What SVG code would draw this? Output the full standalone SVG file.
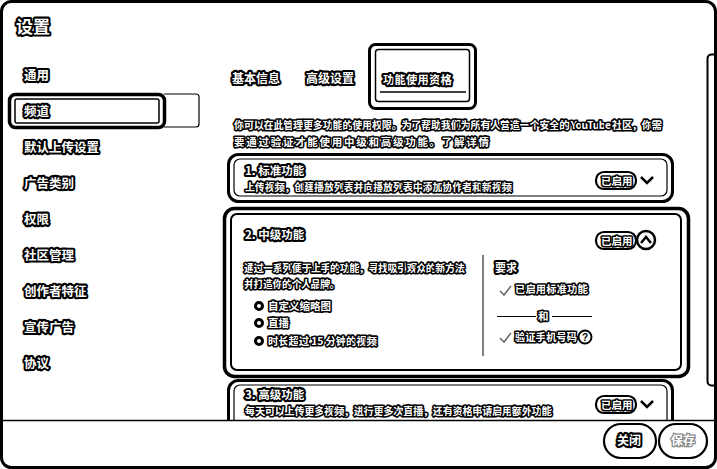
<svg xmlns="http://www.w3.org/2000/svg" width="717" height="469" viewBox="0 0 717 469">
<defs>
<style>
.t{font-family:"Noto Sans CJK SC","Noto Sans",sans-serif;font-weight:bold;fill:#fff;stroke:#000;stroke-width:4.2;stroke-linejoin:round;paint-order:stroke}
.s{stroke-width:3.2}
.side{font-size:12.5px}
.ln{fill:none;stroke:#000}
.thin{fill:none;stroke:#000;stroke-width:1.2}
.pill{fill:#fff;stroke:#000;stroke-width:2.2}
.g{fill:none;stroke:#666;stroke-width:1.5}
</style>
<clipPath id="content"><rect x="0" y="0" width="717" height="420"/></clipPath>
</defs>
<rect x="0" y="0" width="717" height="469" fill="#fff"/>
<g id="dialog">
<rect x="1.5" y="1.5" width="714" height="466" rx="10" class="ln" stroke-width="3"/>
<line x1="0" y1="420.5" x2="717" y2="420.5" stroke="#000" stroke-width="1.5"/>
</g>
<g id="title"><text class="t" x="16" y="33" font-size="17">设置</text></g>
<g id="sidebar">
<path d="M164,94 H196 Q199,94 199,97 V124 Q199,127 196,127 H164" class="thin"/>
<rect x="9.5" y="94.5" width="155" height="33" rx="6" class="ln" stroke-width="3.5"/>
<rect x="15" y="99" width="144" height="24" rx="2" class="ln" stroke-width="1.5"/>
<text class="t side" x="24" y="80">通用</text>
<text class="t side" x="24" y="116">频道</text>
<text class="t side" x="24" y="152">默认上传设置</text>
<text class="t side" x="24" y="188">广告类别</text>
<text class="t side" x="24" y="224">权限</text>
<text class="t side" x="24" y="260">社区管理</text>
<text class="t side" x="24" y="296">创作者特征</text>
<text class="t side" x="24" y="332">宣传广告</text>
<text class="t side" x="24" y="368">协议</text>
</g>
<g id="tabs">
<text class="t" x="232" y="83" font-size="12">基本信息</text>
<text class="t" x="306" y="83" font-size="12">高级设置</text>
<rect x="369.5" y="44.5" width="106" height="64" rx="6" class="ln" stroke-width="3"/>
<rect x="375.5" y="49.5" width="94" height="52" rx="3" class="ln" stroke-width="1.5"/>
<line x1="380" y1="92" x2="466" y2="92" stroke="#000" stroke-width="1.5"/>
<text class="t" x="383" y="84" font-size="11.5" textLength="69">功能使用资格</text>
</g>
<g id="scrollbar">
<rect x="707.5" y="54.5" width="14" height="331" rx="4" class="ln" stroke-width="2"/>
</g>
<g id="content-area" clip-path="url(#content)">
<g id="intro">
<text class="t s" x="234" y="129" font-size="10.5" textLength="428">你可以在此管理更多功能的使用权限。为了帮助我们为所有人营造一个安全的 YouTube 社区，你需</text>
<text class="t s" x="234" y="146" font-size="10.5" textLength="255">要通过验证才能使用中级和高级功能。了解详情</text>
</g>
<g id="card-standard">
<rect x="228.5" y="154.5" width="444" height="47" rx="10" class="ln" stroke-width="3"/>
<rect x="234" y="159" width="433" height="37" rx="6" class="ln" stroke-width="1.2"/>
<text class="t" x="245" y="175" font-size="11.5">1. 标准功能</text>
<text class="t s" x="245" y="191" font-size="10.5" textLength="267">上传视频，创建播放列表并向播放列表中添加协作者和新视频</text>
<rect x="596" y="172" width="40" height="17" rx="8" class="pill"/>
<text class="t s" x="601" y="185" font-size="10.5">已启用</text>
<path d="M641,177 L647,183 L653,177" class="ln" stroke-width="2.5"/>
</g>
<g id="card-intermediate">
<rect x="224.5" y="208.5" width="464" height="168" rx="10" class="ln" stroke-width="3.5"/>
<rect x="231" y="214" width="450" height="156" rx="6" class="ln" stroke-width="2"/>
<text class="t" x="245" y="239" font-size="11.5">2. 中级功能</text>
<rect x="596" y="232" width="40" height="17" rx="8" class="pill"/>
<text class="t s" x="601" y="245" font-size="10.5">已启用</text>
<circle cx="646" cy="240" r="9" class="ln" stroke-width="2.5"/>
<path d="M641,243 L646,237 L651,243" class="ln" stroke-width="2.5"/>
<text class="t s" x="244" y="272" font-size="10.5" textLength="221">通过一系列便于上手的功能，寻找吸引观众的新方法</text>
<text class="t s" x="244" y="288" font-size="10.5" textLength="96">并打造你的个人品牌。</text>
<circle cx="259" cy="306" r="3.5" fill="#fff" stroke="#000" stroke-width="3"/>
<circle cx="259" cy="323" r="3.5" fill="#fff" stroke="#000" stroke-width="3"/>
<circle cx="259" cy="341" r="3.5" fill="#fff" stroke="#000" stroke-width="3"/>
<text class="t s" x="268" y="310" font-size="10.5">自定义缩略图</text>
<text class="t s" x="268" y="327" font-size="10.5">直播</text>
<text class="t s" x="268" y="345" font-size="10.5" textLength="109">时长超过 15 分钟的视频</text>
<line x1="483" y1="255" x2="483" y2="356" stroke="#000" stroke-width="1"/>
<text class="t" x="495" y="272" font-size="11">要求</text>
<path d="M500,291 L504,295 L511,286" class="g"/>
<text class="t s" x="515" y="293" font-size="10.5" textLength="73">已启用标准功能</text>
<line x1="497" y1="316.5" x2="536" y2="316.5" stroke="#000" stroke-width="1"/>
<line x1="552" y1="316.5" x2="592" y2="316.5" stroke="#000" stroke-width="1"/>
<text class="t s" x="538" y="320" font-size="10.5">和</text>
<path d="M500,338 L504,342 L511,333" class="g"/>
<text class="t s" x="515" y="341" font-size="10.5" textLength="62">验证手机号码</text>
<circle cx="585" cy="337" r="6.5" class="ln" stroke-width="2"/>
<text x="585" y="341" font-family="Liberation Sans,sans-serif" font-weight="bold" font-size="10" text-anchor="middle" fill="#000">?</text>
</g>
<g id="card-advanced">
<rect x="228.5" y="380.5" width="444" height="70" rx="10" class="ln" stroke-width="3"/>
<rect x="234" y="385" width="433" height="60" rx="6" class="ln" stroke-width="1.2"/>
<text class="t" x="245" y="399" font-size="11.5">3. 高级功能</text>
<text class="t s" x="245" y="415" font-size="10.5" textLength="307">每天可以上传更多视频，进行更多次直播，还有资格申请启用额外功能</text>
<rect x="596" y="396" width="40" height="17" rx="8" class="pill"/>
<text class="t s" x="601" y="409" font-size="10.5">已启用</text>
<path d="M641,401 L647,407 L653,401" class="ln" stroke-width="2.5"/>
</g>
</g>
<g id="footer">
<rect x="604" y="424" width="52" height="34" rx="17" class="pill" stroke-width="2"/>
<text class="t" x="617" y="445" font-size="12">关闭</text>
<rect x="659" y="424" width="48" height="34" rx="17" class="pill" stroke-width="2"/>
<text x="671" y="445" font-size="12" font-family="Noto Sans CJK SC,sans-serif" font-weight="bold" fill="#fff" stroke="#888" stroke-width="2.5" paint-order="stroke">保存</text>
</g>
</svg>
